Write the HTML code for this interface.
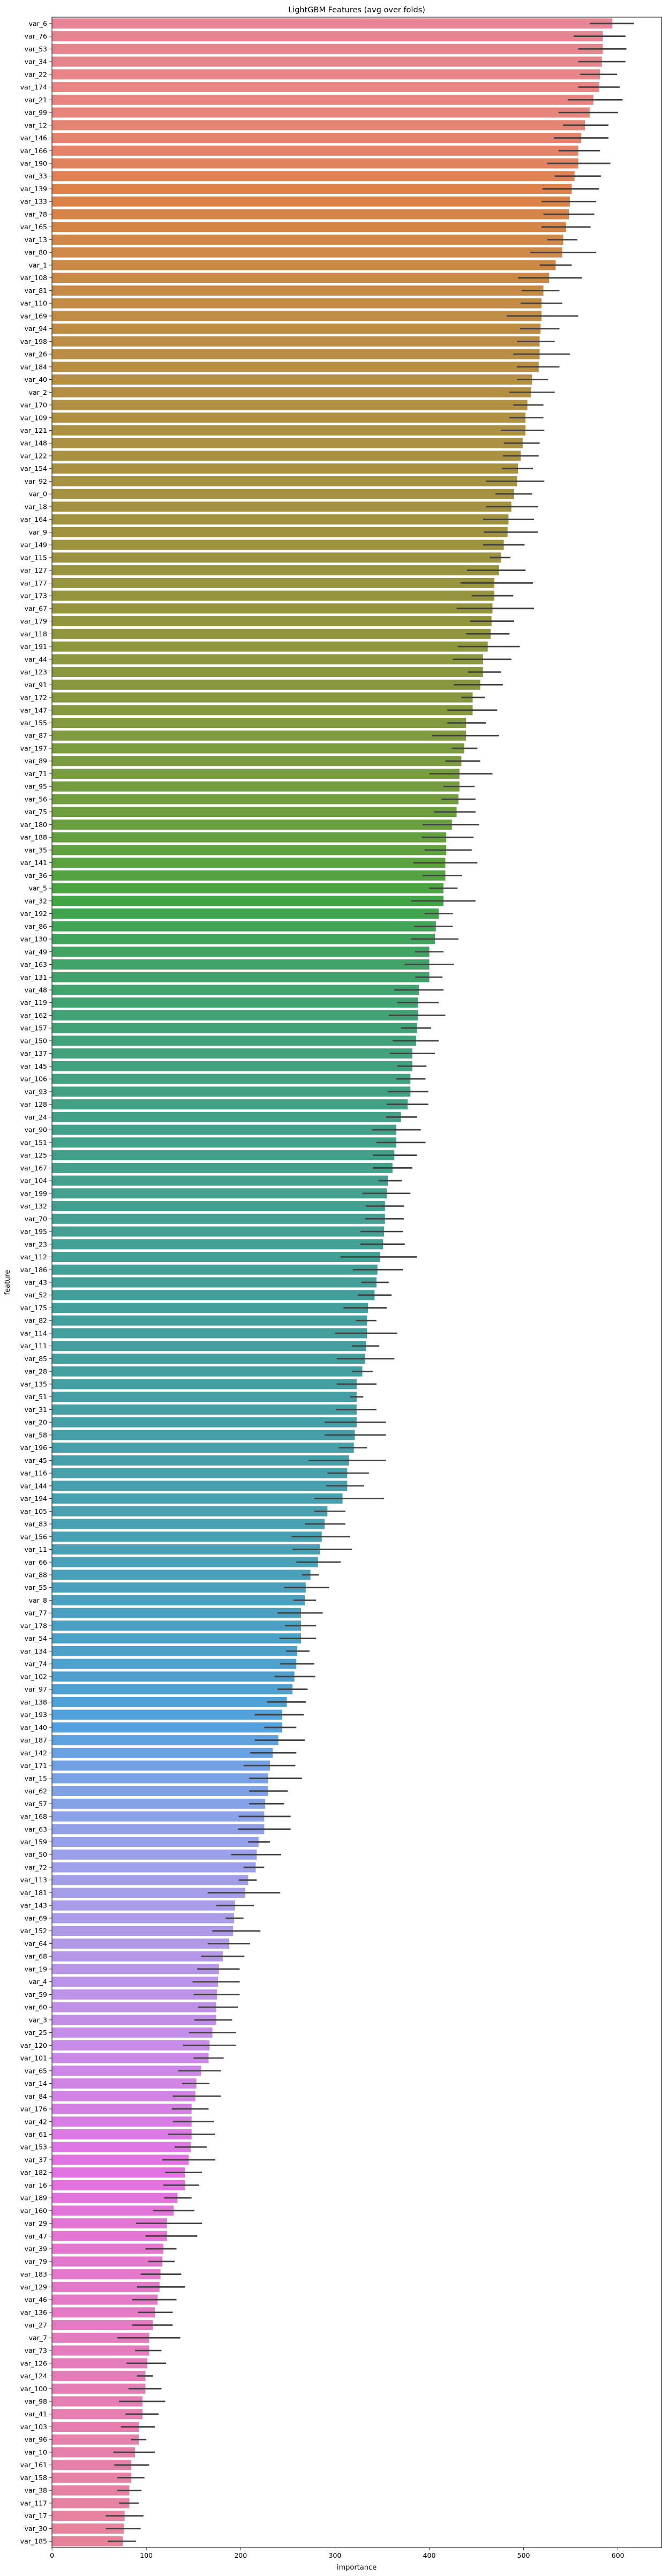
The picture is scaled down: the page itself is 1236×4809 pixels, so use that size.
<!DOCTYPE html>
<html><head><meta charset="utf-8">
<style>
html,body{margin:0;padding:0;background:#fff;}
svg{display:block;font-family:"DejaVu Sans","Liberation Sans",sans-serif;}
</style></head>
<body>
<svg id="chart" width="1236" height="4809" viewBox="0 0 1236 4809" xmlns="http://www.w3.org/2000/svg">
<text x="666" y="23" text-anchor="middle" font-size="14.5" fill="#000">LightGBM Features (avg over folds)</text>
<text x="666" y="4797" text-anchor="middle" font-size="13" fill="#000">importance</text>
<text x="0" y="0" transform="translate(18,2394) rotate(-90)" text-anchor="middle" font-size="13" fill="#000">feature</text>
<g id="bars"></g>
<g id="errs"></g>
<g id="yticks"></g>
<g id="xticks"></g>
<rect x="97" y="32" width="1138.5" height="4724" fill="none" stroke="#000" stroke-width="1"/>
</svg>
<script>
const features = ["var_6","var_76","var_53","var_34","var_22","var_174","var_21","var_99","var_12","var_146","var_166","var_190","var_33","var_139","var_133","var_78",
"var_165","var_13","var_80","var_1","var_108","var_81","var_110","var_169","var_94","var_198","var_26","var_184","var_40","var_2","var_170","var_109","var_121",
"var_148","var_122","var_154","var_92","var_0","var_18","var_164","var_9","var_149","var_115","var_127","var_177","var_173","var_67","var_179","var_118",
"var_191","var_44","var_123","var_91","var_172","var_147","var_155","var_87","var_197","var_89","var_71","var_95","var_56","var_75","var_180","var_188","var_35",
"var_141","var_36","var_5","var_32","var_192","var_86","var_130","var_49","var_163","var_131","var_48","var_119","var_162","var_157","var_150","var_137","var_145",
"var_106","var_93","var_128","var_24","var_90","var_151","var_125","var_167","var_104","var_199","var_132","var_70","var_195","var_23","var_112","var_186","var_43",
"var_52","var_175","var_82","var_114","var_111","var_85","var_28","var_135","var_51","var_31","var_20","var_58","var_196","var_45","var_116","var_144","var_194",
"var_105","var_83","var_156","var_11","var_66","var_88","var_55","var_8","var_77","var_178","var_54","var_134","var_74","var_102","var_97","var_138","var_193",
"var_140","var_187","var_142","var_171","var_15","var_62","var_57","var_168","var_63","var_159","var_50","var_72","var_113","var_181","var_143","var_69","var_152",
"var_64","var_68","var_19","var_4","var_59","var_60","var_3","var_25","var_120","var_101","var_65","var_14","var_84","var_176","var_42","var_61",
"var_153","var_37","var_182","var_16","var_189","var_160","var_29","var_47","var_39","var_79","var_183","var_129","var_46","var_136","var_27","var_7","var_73",
"var_126","var_124","var_100","var_98","var_41","var_103","var_96","var_10","var_161","var_158","var_38","var_117","var_17","var_30","var_185"];
const importance = [594,584,584,583,581,580,574,570,565,561,558,558,554,551,549,548,
545,542,541,534,527,521,519,519,518,517,517,516,509,508,504,502,502,
499,497,494,493,490,487,484,483,479,476,474,469,469,467,466,465,
462,457,457,454,446,446,439,439,437,434,432,432,431,429,424,418,418,
417,417,415,415,410,407,406,400,400,400,389,388,388,387,386,382,382,
380,380,377,370,365,365,363,361,356,355,353,353,352,351,348,345,344,
342,335,334,334,333,332,329,323,323,323,323,321,320,315,313,313,308,
292,289,286,284,282,274,269,268,264,264,264,260,259,257,255,249,244,
244,240,234,231,229,229,226,225,225,219,217,216,208,205,194,193,192,
188,181,177,176,175,174,174,170,167,166,158,153,152,148,148,148,
147,145,141,141,133,129,122,122,118,117,115,114,112,109,107,103,103,
101,99,99,96,96,92,92,88,84,84,82,82,77,76,75];
const ciLow = [570,553,558,558,560,558,547,537,542,532,537,525,533,520,519,521,
519,525,507,517,494,498,497,482,496,493,489,493,493,485,489,485,476,
479,478,477,460,470,460,457,458,457,464,440,433,445,429,443,439,
430,425,441,426,434,419,419,403,424,417,400,415,413,405,393,392,395,
383,393,400,381,395,384,381,385,374,385,363,366,357,370,361,358,366,
365,356,355,354,339,344,340,340,346,329,333,332,327,327,306,319,328,
324,309,322,300,318,302,318,302,316,301,289,289,304,272,292,291,278,
278,268,254,255,259,265,246,256,239,247,241,248,242,236,239,228,215,
225,215,210,203,209,209,209,198,197,208,190,203,198,165,174,184,170,
165,158,154,149,150,155,151,145,139,150,134,138,128,127,128,123,
130,117,120,118,119,107,89,99,99,102,94,90,85,91,85,69,88,
79,90,81,71,78,73,84,65,66,69,69,71,57,57,59];
const ciHigh = [617,608,609,608,599,602,605,600,590,590,581,592,582,580,577,575,
571,557,577,551,562,538,541,558,538,533,549,538,526,533,521,521,522,
517,516,510,522,509,515,511,515,501,486,502,510,489,511,490,485,
496,487,476,478,459,472,460,474,451,454,467,448,449,449,453,447,445,
451,435,430,449,425,425,431,415,426,414,415,410,417,402,410,406,397,
396,399,399,387,391,396,387,382,371,380,373,373,372,374,387,372,357,
360,355,344,366,347,363,340,344,330,344,354,354,334,354,336,331,352,
311,311,316,318,306,283,294,280,287,280,280,273,278,279,271,269,267,
259,268,259,258,265,250,246,253,253,231,243,225,217,242,214,203,221,
210,204,199,199,199,197,191,195,195,182,179,167,179,166,172,173,
164,173,159,156,148,151,159,154,132,130,137,141,132,128,128,136,116,
121,107,116,120,113,109,100,109,103,98,95,92,97,94,89];
const xTicks = [0,100,200,300,400,500,600];

const X0 = 97.1, XSCALE = 1.761, XMAX = 646;
const TOP = 32, BOTTOM = 4756;
const band = (BOTTOM - TOP) / features.length;
function xScale(v){ return X0 + v * XSCALE; }
function yBand(i){ return TOP + i * band; }

// seaborn husl palette + desaturation
const M = [[3.2406,-1.5372,-0.4986],[-0.9689,1.8758,0.0415],[0.0557,-0.2040,1.0570]];
const refU=0.19784, refV=0.46834, kappa=903.29630, eps=0.0088564;
function maxChroma(L,H){
  const hr=H*Math.PI/180, sH=Math.sin(hr), cH=Math.cos(hr);
  const sub1=Math.pow(L+16,3)/1560896.0, sub2=sub1>eps?sub1:L/kappa;
  let res=Infinity;
  for(const [m1,m2,m3] of M){
    const top=(0.99915*m1+1.05122*m2+1.14460*m3)*sub2;
    const rb=0.86330*m3-0.17266*m2, lb=0.12949*m3-0.38848*m1;
    const bottom=(rb*sH+lb*cH)*sub2;
    for(const t of [0,1]){
      const C=L*(top-1.05122*t)/(bottom+0.17266*sH*t);
      if(C>0 && C<res) res=C;
    }
  }
  return res;
}
function husl2rgb(H,S,L){
  const C=maxChroma(L,H)/100*S, hr=H*Math.PI/180;
  const U=Math.cos(hr)*C, V=Math.sin(hr)*C;
  const t=(L+16)/116, Y=(t*t*t>eps)?t*t*t:(116*t-16)/kappa;
  const vU=U/(13*L)+refU, vV=V/(13*L)+refV;
  const X=0-(9*Y*vU)/((vU-4)*vV-vU*vV);
  const Z=(9*Y-15*vV*Y-vV*X)/(3*vV);
  return M.map(r=>{let c=r[0]*X+r[1]*Y+r[2]*Z;
    c = c<=0.0031308?12.92*c:1.055*Math.pow(c,1/2.4)-0.055;
    return Math.min(1,Math.max(0,c));});
}
function desat(rgb,p){
  const [r,g,b]=rgb, mx=Math.max(r,g,b), mn=Math.min(r,g,b), l=(mx+mn)/2;
  if(mx===mn) return rgb;
  const d=mx-mn; let s=l<=0.5?d/(mx+mn):d/(2-mx-mn);
  let h; if(mx===r) h=((g-b)/d)%6; else if(mx===g) h=(b-r)/d+2; else h=(r-g)/d+4;
  h/=6; if(h<0)h+=1; s*=p;
  const q=l<0.5?l*(1+s):l+s-l*s, pp=2*l-q;
  const f=t=>{if(t<0)t+=1;if(t>1)t-=1;if(t<1/6)return pp+(q-pp)*6*t;if(t<1/2)return q;if(t<2/3)return pp+(q-pp)*(2/3-t)*6;return pp;};
  return [f(h+1/3),f(h),f(h-1/3)];
}
function colorFor(i,n){
  const h=((i/n)+0.01)%1;
  const c=desat(husl2rgb(h*359,90,65),0.75);
  return 'rgb('+c.map(v=>Math.round(v*255)).join(',')+')';
}

const NS='http://www.w3.org/2000/svg';
const gb=document.getElementById('bars'), ge=document.getElementById('errs'), gy=document.getElementById('yticks'), gx=document.getElementById('xticks');
features.forEach((f,i)=>{
  const yc=yBand(i)+band/2, bh=band*0.8;
  const r=document.createElementNS(NS,'rect');
  
  
  r.setAttribute('x',xScale(0)); r.setAttribute('y',yc-bh/2);
  r.setAttribute('width',Math.max(0,xScale(importance[i])-xScale(0))); r.setAttribute('height',bh);
  r.setAttribute('fill',colorFor(i,features.length));
  gb.appendChild(r);
  const l=document.createElementNS(NS,'line');
  
  
  l.setAttribute('x1',xScale(ciLow[i])); l.setAttribute('x2',xScale(ciHigh[i]));
  l.setAttribute('y1',yc); l.setAttribute('y2',yc);
  l.setAttribute('stroke','#424242'); l.setAttribute('stroke-width','2.7');
  ge.appendChild(l);
  const tk=document.createElementNS(NS,'line');
  
  
  tk.setAttribute('x1',92); tk.setAttribute('x2',97); tk.setAttribute('y1',yc); tk.setAttribute('y2',yc);
  tk.setAttribute('stroke','#000'); tk.setAttribute('stroke-width','0.8');
  gy.appendChild(tk);
  const t=document.createElementNS(NS,'text');
  
  
  t.setAttribute('x',88); t.setAttribute('y',yc+4.5);
  t.setAttribute('text-anchor','end'); t.setAttribute('font-size','12.5');
  t.textContent=f;
  gy.appendChild(t);
});
xTicks.forEach(v=>{
  const x=xScale(v);
  const tk=document.createElementNS(NS,'line');
  
  
  tk.setAttribute('x1',x); tk.setAttribute('x2',x); tk.setAttribute('y1',BOTTOM); tk.setAttribute('y2',BOTTOM+5);
  tk.setAttribute('stroke','#000'); tk.setAttribute('stroke-width','0.8');
  gx.appendChild(tk);
  const t=document.createElementNS(NS,'text');
  
  
  t.setAttribute('x',x); t.setAttribute('y',BOTTOM+19);
  t.setAttribute('text-anchor','middle'); t.setAttribute('font-size','12.5');
  t.textContent=String(v);
  gx.appendChild(t);
});
</script>
</body></html>
